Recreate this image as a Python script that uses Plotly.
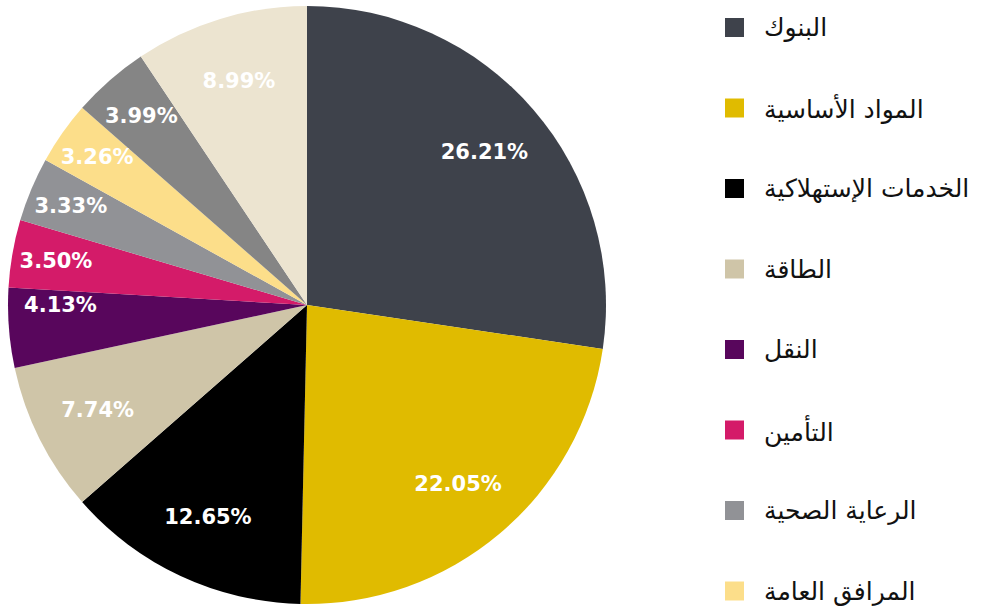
import plotly.graph_objects as go

labels = ["البنوك", "المواد الأساسية", "الخدمات الإستهلاكية", "الطاقة", "النقل",
          "التأمين", "الرعاية الصحية", "المرافق العامة", "الاتصالات", "أخرى"]
values = [26.21, 22.05, 12.65, 7.74, 4.13, 3.50, 3.33, 3.26, 3.99, 8.99]
colors = ["#3e424b", "#e0bb00", "#000000", "#cfc5a8", "#58065c",
          "#d41b69", "#919296", "#fcde8a", "#858585", "#ece4d0"]
legend_count = 8  # entries visible in the reference

W, H = 983, 608
MT, MB = 6, 4
PH = H - MT - MB
dom = dict(x=[8 / W, 606 / W], y=[0, 1])
inset = 15  # label ring sits slightly inside the pie edge
dom_text = dict(x=[(8 + inset) / W, (606 - inset) / W],
                y=[inset / PH, 1 - inset / PH])

fig = go.Figure()
# coloured slices
fig.add_trace(go.Pie(
    labels=labels, values=values,
    textinfo="none",
    marker=dict(colors=colors, line=dict(width=0)),
    sort=False, direction="clockwise", rotation=0,
    showlegend=False, hoverinfo="skip",
    domain=dom,
))
# percentage labels, placed in the outer ring
fig.add_trace(go.Pie(
    labels=labels, values=values,
    text=[f"{v:.2f}%" for v in values],
    textinfo="text",
    textposition="inside",
    insidetextorientation="horizontal",
    textfont=dict(family="DejaVu Sans", size=21, color="white", weight="bold"),
    marker=dict(colors=["rgba(0,0,0,0)"] * len(values), line=dict(width=0)),
    hole=0.65,
    sort=False, direction="clockwise", rotation=0,
    showlegend=False, hoverinfo="skip",
    domain=dom_text,
))

# custom right-to-left legend: square then label to its right
sq = 19
x0 = 725
y_first = 27.5
step = 80.5


def py(pix):
    return 1 - (pix - MT) / PH


for i in range(legend_count):
    yc = y_first + i * step
    fig.add_shape(type="rect", xref="paper", yref="paper",
                  x0=x0 / W, x1=(x0 + sq) / W,
                  y0=py(yc + sq / 2), y1=py(yc - sq / 2),
                  fillcolor=colors[i], line=dict(width=0))
    fig.add_annotation(xref="paper", yref="paper",
                       x=(x0 + sq + 18) / W, y=py(yc),
                       xanchor="left", yanchor="middle",
                       text=labels[i], showarrow=False,
                       font=dict(family="DejaVu Sans", size=25, color="#111111"))

fig.update_layout(
    width=W, height=H,
    margin=dict(l=0, r=0, t=MT, b=MB),
    paper_bgcolor="white",
    plot_bgcolor="white",
    uniformtext=dict(minsize=21, mode="show"),
)

fig.write_html("out.html", config={"displayModeBar": False},
               post_script="document.body.style.margin='0';")
